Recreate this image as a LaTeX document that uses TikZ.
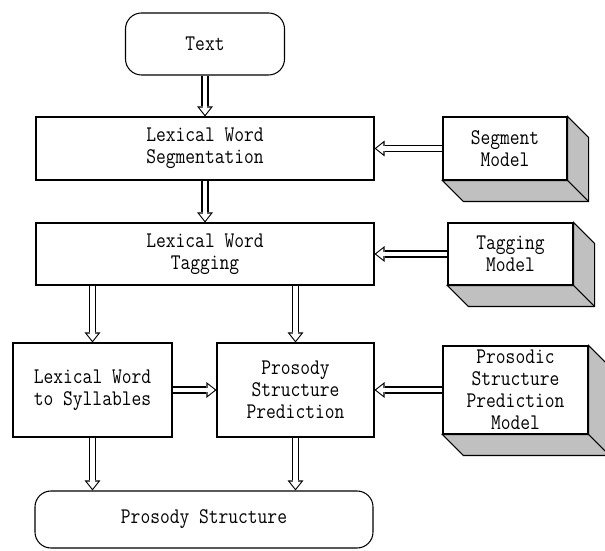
\documentclass[tikz,border=0pt]{standalone}
\usepackage{fontspec}
\setmonofont{Latin Modern Mono}[FakeStretch=0.85]
\usetikzlibrary{arrows.meta}
\definecolor{sidegray}{RGB}{192,192,192}

\begin{document}
\begin{tikzpicture}[
  every node/.style={font=\ttfamily\fontsize{12.7}{12.6}\selectfont, align=center, inner sep=0pt},
  box/.style={draw, line width=0.6pt, fill=white},
  endbox/.style={box, rounded corners=0.32cm},
  hollow/.style={line width=4pt, -{Triangle[length=5.7pt,width=9pt,line width=0pt]},
    postaction={draw=white, line width=2.8pt, shorten >=1pt,
      -{Triangle[length=4.1pt,width=6.5pt,line width=0pt]}}}
]
\useasboundingbox (0,0) rectangle (12.1,11);

\node (text) at (4.10, 10.12) [endbox, minimum width=3.18cm, minimum height=1.24cm] {Text};
\node (seg) at (4.10, 8.03) [box, minimum width=6.76cm, minimum height=1.26cm] {Lexical Word\\Segmentation};
\node (tag) at (4.10, 5.92) [box, minimum width=6.76cm, minimum height=1.24cm] {Lexical Word\\Tagging};
\node (syl) at (1.85, 3.20) [box, minimum width=3.18cm, minimum height=1.88cm] {Lexical Word\\to Syllables};
\node (psp) at (5.91, 3.20) [box, minimum width=3.14cm, minimum height=1.88cm] {Prosody\\Structure\\Prediction};
\node (ps) at (4.08, 0.61) [endbox, minimum width=6.76cm, minimum height=1.14cm] {Prosody Structure};

\node (segmodel) at (10.10, 8.03) [box, minimum width=2.48cm, minimum height=1.26cm] {Segment\\Model};
\node (tagmodel) at (10.21, 5.92) [box, minimum width=2.50cm, minimum height=1.24cm] {Tagging\\Model};
\node (pspmodel) at (10.31, 3.20) [box, minimum width=2.90cm, minimum height=1.76cm] {Prosodic\\Structure\\Prediction\\Model};

\foreach \m in {segmodel,tagmodel,pspmodel} {
  \filldraw[fill=sidegray, line width=0.6pt] (\m.north east) -- ++(0.42,-0.42)
    |- ([shift={(0.42,-0.42)}]\m.south west) -- (\m.south west) -- (\m.south east) -- cycle;
  \draw[line width=0.6pt] (\m.south east) -- ++(0.42,-0.42);
}

\draw[hollow] (text.south) -- (seg.north);
\draw[hollow] (seg.south) -- (tag.north);
\draw[hollow] (syl |- tag.south) -- (syl.north);
\draw[hollow] (psp |- tag.south) -- (psp.north);
\draw[hollow] (syl) -- (psp);
\draw[hollow] (segmodel) -- (seg);
\draw[hollow] (tagmodel) -- (tag);
\draw[hollow] (pspmodel) -- (psp);
\draw[hollow] (syl.south) -- (syl.south |- ps.north);
\draw[hollow] (psp.south) -- (psp.south |- ps.north);

\end{tikzpicture}
\end{document}
